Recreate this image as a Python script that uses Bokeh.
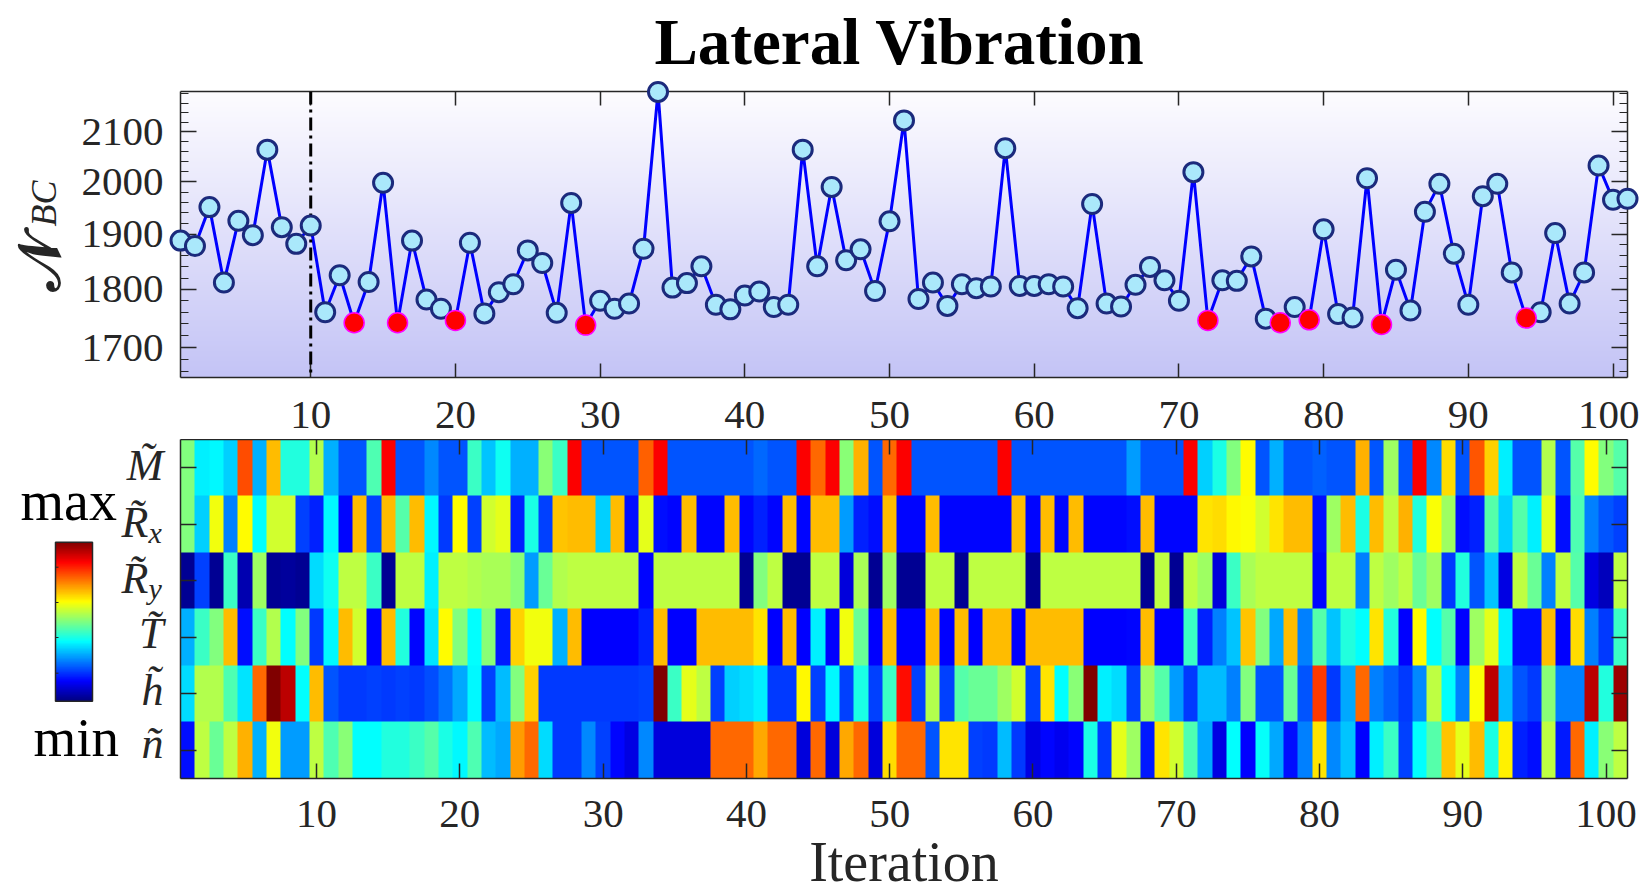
import numpy as np
from bokeh.plotting import figure
from bokeh.layouts import column, row
from bokeh.models import (Range1d, FixedTicker, LinearAxis, LogAxis, Span,
                          LinearColorMapper, BasicTickFormatter)
from bokeh.core.properties import value
from bokeh.embed import file_html
from bokeh.resources import INLINE

# ---------------- data ----------------
iterations = list(range(1, 102))
n_bc = [1888, 1878, 1951, 1812, 1925, 1898, 2064, 1913, 1882, 1916,
        1760, 1825, 1742, 1813, 1998, 1742, 1888, 1782, 1766, 1746,
        1884, 1758, 1795, 1809, 1870, 1847, 1759, 1959, 1738, 1780,
        1766, 1775, 1873, 2184, 1803, 1811, 1841, 1773, 1765, 1789,
        1796, 1769, 1773, 2064, 1841, 1990, 1852, 1872, 1797, 1924,
        2124, 1783, 1812, 1771, 1809, 1802, 1805, 2067, 1806, 1806,
        1809, 1805, 1767, 1957, 1775, 1770, 1808, 1840, 1816, 1780,
        2019, 1746, 1816, 1815, 1859, 1749, 1742, 1769, 1747, 1909,
        1757, 1751, 2007, 1739, 1835, 1763, 1942, 1996, 1864, 1773,
        1972, 1996, 1830, 1750, 1760, 1902, 1775, 1830, 2032, 1965, 1967]
best_iters = [13, 16, 20, 29, 72, 77, 79, 84, 94]

x_ticks = [10, 20, 30, 40, 50, 60, 70, 80, 90, 100]
y_ticks = [1700, 1800, 1900, 2000, 2100]
y_minor = list(range(1660, 2181, 20))
y_lims = (1651, 2185)

heat_M = [0.5, 0.36, 0.37, 0.33, 0.8, 0.3, 0.69, 0.41, 0.41, 0.55,
          0.3, 0.21, 0.21, 0.45, 0.875, 0.21, 0.21, 0.26, 0.21, 0.21,
          0.43, 0.32, 0.39, 0.3, 0.3, 0.51, 0.43, 0.875, 0.21, 0.21,
          0.21, 0.21, 0.78, 0.875, 0.21, 0.21, 0.21, 0.21, 0.21, 0.21,
          0.23, 0.21, 0.21, 0.875, 0.77, 0.875, 0.51, 0.7, 0.21, 0.77,
          0.875, 0.21, 0.21, 0.21, 0.21, 0.21, 0.21, 0.875, 0.21, 0.21,
          0.21, 0.21, 0.21, 0.21, 0.21, 0.21, 0.28, 0.21, 0.21, 0.21,
          0.875, 0.33, 0.4, 0.5, 0.625, 0.21, 0.3, 0.21, 0.21, 0.22,
          0.21, 0.21, 0.7, 0.21, 0.53, 0.21, 0.875, 0.26, 0.66, 0.21,
          0.79, 0.67, 0.36, 0.21, 0.21, 0.55, 0.21, 0.46, 0.625, 0.5, 0.46]
heat_Rx = [0.5, 0.33, 0.61, 0.25, 0.625, 0.375, 0.58, 0.58, 0.19, 0.16,
           0.37, 0.13, 0.69, 0.19, 0.69, 0.46, 0.69, 0.37, 0.18, 0.625,
           0.19, 0.58, 0.6, 0.16, 0.4, 0.19, 0.68, 0.69, 0.69, 0.33,
           0.69, 0.14, 0.6, 0.14, 0.13, 0.69, 0.13, 0.13, 0.69, 0.13,
           0.16, 0.13, 0.69, 0.13, 0.69, 0.69, 0.28, 0.16, 0.14, 0.69,
           0.13, 0.13, 0.69, 0.13, 0.13, 0.13, 0.13, 0.13, 0.69, 0.13,
           0.69, 0.13, 0.69, 0.13, 0.13, 0.13, 0.14, 0.69, 0.13, 0.13,
           0.13, 0.65, 0.66, 0.63, 0.62, 0.58, 0.65, 0.69, 0.69, 0.14,
           0.53, 0.69, 0.4, 0.69, 0.56, 0.7, 0.41, 0.62, 0.53, 0.14,
           0.16, 0.46, 0.33, 0.46, 0.36, 0.6, 0.14, 0.45, 0.25, 0.21, 0.19]
heat_Ry = [0.02, 0.19, 0.02, 0.43, 0.05, 0.53, 0.02, 0.03, 0.02, 0.34,
           0.39, 0.56, 0.56, 0.43, 0.02, 0.56, 0.56, 0.36, 0.56, 0.56,
           0.55, 0.54, 0.54, 0.51, 0.28, 0.48, 0.55, 0.56, 0.56, 0.56,
           0.56, 0.56, 0.13, 0.56, 0.56, 0.56, 0.56, 0.56, 0.56, 0.02,
           0.5, 0.56, 0.02, 0.02, 0.56, 0.56, 0.09, 0.54, 0.02, 0.53,
           0.02, 0.02, 0.56, 0.56, 0.02, 0.56, 0.56, 0.56, 0.56, 0.02,
           0.56, 0.56, 0.56, 0.56, 0.56, 0.56, 0.56, 0.02, 0.56, 0.02,
           0.56, 0.53, 0.09, 0.43, 0.54, 0.56, 0.56, 0.56, 0.56, 0.13,
           0.56, 0.56, 0.25, 0.56, 0.53, 0.56, 0.48, 0.53, 0.18, 0.41,
           0.21, 0.32, 0.1, 0.56, 0.48, 0.25, 0.56, 0.46, 0.1, 0.06, 0.56]
heat_T = [0.3, 0.43, 0.5, 0.69, 0.14, 0.43, 0.55, 0.375, 0.5, 0.18,
          0.37, 0.69, 0.58, 0.13, 0.69, 0.41, 0.13, 0.35, 0.625, 0.5,
          0.375, 0.51, 0.15, 0.67, 0.61, 0.61, 0.3, 0.69, 0.125, 0.125,
          0.125, 0.125, 0.16, 0.69, 0.125, 0.125, 0.69, 0.69, 0.69, 0.69,
          0.65, 0.125, 0.69, 0.125, 0.36, 0.125, 0.61, 0.48, 0.125, 0.69,
          0.125, 0.125, 0.69, 0.125, 0.69, 0.125, 0.69, 0.69, 0.125, 0.69,
          0.69, 0.69, 0.69, 0.125, 0.125, 0.125, 0.13, 0.69, 0.125, 0.125,
          0.43, 0.16, 0.25, 0.32, 0.68, 0.5, 0.29, 0.69, 0.25, 0.46,
          0.32, 0.41, 0.375, 0.65, 0.41, 0.125, 0.625, 0.375, 0.46, 0.125,
          0.53, 0.6, 0.36, 0.14, 0.14, 0.69, 0.125, 0.66, 0.25, 0.18, 0.43]
heat_h = [0.34, 0.55, 0.55, 0.45, 0.35, 0.77, 1.0, 0.94, 0.375, 0.69,
          0.21, 0.18, 0.18, 0.19, 0.18, 0.19, 0.18, 0.2, 0.24, 0.29,
          0.37, 0.19, 0.31, 0.5, 0.67, 0.18, 0.18, 0.18, 0.18, 0.18,
          0.18, 0.18, 0.19, 1.0, 0.43, 0.6, 0.56, 0.19, 0.33, 0.34,
          0.36, 0.18, 0.18, 0.63, 0.19, 0.37, 0.19, 0.4, 0.19, 0.43,
          0.86, 0.19, 0.55, 0.19, 0.46, 0.48, 0.48, 0.53, 0.58, 0.19,
          0.65, 0.375, 0.51, 1.0, 0.36, 0.34, 0.19, 0.53, 0.46, 0.28,
          0.18, 0.31, 0.31, 0.25, 0.5, 0.21, 0.21, 0.48, 0.21, 0.82,
          0.18, 0.29, 0.77, 0.25, 0.22, 0.18, 0.26, 0.56, 0.375, 0.25,
          0.62, 0.94, 0.31, 0.21, 0.18, 0.51, 0.25, 0.25, 0.94, 0.41, 0.97]
heat_n = [0.14, 0.56, 0.48, 0.56, 0.7, 0.3, 0.61, 0.28, 0.28, 0.56,
          0.45, 0.51, 0.375, 0.375, 0.41, 0.41, 0.43, 0.46, 0.4, 0.37,
          0.45, 0.31, 0.29, 0.72, 0.77, 0.34, 0.18, 0.18, 0.26, 0.19,
          0.13, 0.1, 0.26, 0.09, 0.09, 0.09, 0.09, 0.77, 0.77, 0.77,
          0.71, 0.77, 0.77, 0.09, 0.77, 0.09, 0.71, 0.77, 0.09, 0.66,
          0.77, 0.77, 0.21, 0.65, 0.65, 0.19, 0.18, 0.31, 0.18, 0.1,
          0.13, 0.11, 0.13, 0.4, 0.18, 0.6, 0.53, 0.15, 0.65, 0.58,
          0.45, 0.29, 0.1, 0.375, 0.125, 0.38, 0.29, 0.14, 0.25, 0.65,
          0.26, 0.32, 0.125, 0.36, 0.43, 0.19, 0.375, 0.46, 0.68, 0.6,
          0.69, 0.4, 0.64, 0.16, 0.14, 0.56, 0.15, 0.77, 0.36, 0.51, 0.56]

row_main = ["M\u0303", "R\u0303", "R\u0303", "T\u0303", "h\u0303", "n\u0303"]
row_sub = ["", "x", "y", "", "", ""]
title_text = "Lateral Vibration"
xlabel_text = "Iteration"

# ---------------- styling helpers ----------------
SERIF = "Liberation Serif"
AX = "#262626"
W = 1639
TOP_H, BOT_H = 439, 455
LT_W, CB_W = 75, 172
P1_TOP, P1_BOT = 91, 62          # borders of the line plot
P2_BOT = 116                     # bottom border of the heat map
BL = 0.34                        # text anchor to alphabetic baseline, in em


def anchor(page_baseline, size):
    """page y of the anchor that puts the alphabetic baseline at page_baseline"""
    return page_baseline - BL * size


def jet(n=256):
    v = np.linspace(0, 1, n)
    r = np.clip(1.5 - np.abs(4 * v - 3), 0, 1)
    g = np.clip(1.5 - np.abs(4 * v - 2), 0, 1)
    b = np.clip(1.5 - np.abs(4 * v - 1), 0, 1)
    return ["#%02x%02x%02x" % (int(round(a * 255)), int(round(c * 255)), int(round(d * 255)))
            for a, c, d in zip(r, g, b)]


JET = jet()


def style_axis(ax, tick_in, label_size="41px", standoff=16, show_labels=True, minor_in=0):
    ax.axis_line_color = AX
    ax.axis_line_width = 1.5
    ax.major_tick_line_color = AX
    ax.major_tick_line_width = 1.5
    ax.minor_tick_line_color = AX
    ax.minor_tick_line_width = 1.2
    ax.major_tick_in = tick_in
    ax.major_tick_out = 0
    ax.minor_tick_in = minor_in
    ax.minor_tick_out = 0
    ax.major_label_text_font = SERIF
    ax.major_label_text_color = AX
    if show_labels:
        ax.major_label_text_font_size = label_size
        ax.major_label_standoff = standoff
    else:
        ax.major_label_text_font_size = "0px"
        ax.major_label_standoff = 0


# ---------------- top: line plot ----------------
p1 = figure(width=W - LT_W, height=TOP_H, x_range=Range1d(1, 101),
            y_range=Range1d(*y_lims), y_axis_type="log",
            output_backend="svg", toolbar_location=None,
            min_border_left=105, min_border_right=12, min_border_top=P1_TOP,
            min_border_bottom=P1_BOT)
p1.grid.visible = False
p1.outline_line_color = None

# vertical gradient background of the axes
N = 256
grad = np.empty((N, 1), dtype=np.uint32)
gv = grad.view(dtype=np.uint8).reshape((N, 1, 4))
t = np.linspace(0, 1, N)  # 0 bottom, 1 top
gv[:, 0, 0] = (196 + (253 - 196) * t).astype(np.uint8)
gv[:, 0, 1] = (196 + (252 - 196) * t).astype(np.uint8)
gv[:, 0, 2] = (246 + (255 - 246) * t).astype(np.uint8)
gv[:, 0, 3] = 255
p1.image_rgba(image=[grad], x=1, y=y_lims[0], dw=100, dh=y_lims[1] - y_lims[0], level="image")

p1.add_layout(Span(location=10, dimension="height", line_color="black",
                   line_width=3, line_dash="13 5 3 5"))

p1.line(iterations, n_bc, line_color="#0000ff", line_width=3)
xn = [i for i in iterations if i not in best_iters]
yn = [n_bc[i - 1] for i in xn]
xb = list(best_iters)
yb = [n_bc[i - 1] for i in xb]
r1 = p1.scatter(xn, yn, size=19, fill_color="#aae8fb", line_color="#1b2a7c", line_width=3)
r2 = p1.scatter(xb, yb, size=20, fill_color="#ff0000", line_color="#ff00ff", line_width=1.5)
r1.level = "overlay"
r2.level = "overlay"

# title drawn above the frame (page baseline ~63 px)
frame1_h = TOP_H - P1_TOP - P1_BOT
px_per_decade = frame1_h / (np.log10(y_lims[1]) - np.log10(y_lims[0]))
title_size = 65
title_y = y_lims[1] * 10 ** ((P1_TOP - anchor(64, title_size)) / px_per_decade)
tt = p1.text(x=[50.7], y=[title_y], text=[title_text], text_font=value(SERIF),
             text_font_size="%dpx" % title_size, text_font_style="bold",
             text_baseline="alphabetic", text_align="center", text_color="black")
tt.level = "overlay"

p1.xaxis.ticker = FixedTicker(ticks=x_ticks)
style_axis(p1.xaxis[0], 14, standoff=24)
p1.yaxis.ticker = FixedTicker(ticks=y_ticks, minor_ticks=y_minor)
p1.yaxis.formatter = BasicTickFormatter(use_scientific=False)
style_axis(p1.yaxis[0], 16, standoff=17, minor_in=8)

ax_top = LinearAxis(ticker=FixedTicker(ticks=x_ticks))
style_axis(ax_top, 14, show_labels=False)
p1.add_layout(ax_top, "above")
ax_right = LogAxis(ticker=FixedTicker(ticks=y_ticks, minor_ticks=y_minor))
ax_right.formatter = BasicTickFormatter(use_scientific=False)
style_axis(ax_right, 16, show_labels=False, minor_in=8)
p1.add_layout(ax_right, "right")

# left strip with the y label (frame lines up with p1's frame; data y = 439 - page y)
lt = figure(width=LT_W, height=TOP_H, x_range=Range1d(0, LT_W),
            y_range=Range1d(P1_BOT, TOP_H - P1_TOP),
            output_backend="svg", toolbar_location=None, min_border=0,
            x_axis_location=None, y_axis_location=None, outline_line_color=None)
lt.grid.visible = False
n_size, bc_size = 58, 36
t1 = lt.text(x=[58 - BL * n_size], y=[TOP_H - 290], text=["\U0001D4A9"], angle=np.pi / 2,
             text_font=value("DejaVu Serif"), text_font_size="%dpx" % n_size,
             text_font_style="bold",
             text_baseline="alphabetic", text_align="left", text_color=AX)
t2 = lt.text(x=[56 - BL * bc_size], y=[TOP_H - 226], text=["BC"], angle=np.pi / 2,
             text_font=value(SERIF), text_font_style="italic", text_font_size="%dpx" % bc_size,
             text_baseline="alphabetic", text_align="left", text_color=AX)
t1.level = "overlay"
t2.level = "overlay"

# ---------------- bottom: heat map ----------------
p2 = figure(width=W - CB_W, height=BOT_H, x_range=Range1d(0.5, 101.5),
            y_range=Range1d(0.5, 6.5), output_backend="svg", toolbar_location=None,
            min_border_left=8, min_border_right=12, min_border_top=0,
            min_border_bottom=P2_BOT)
p2.grid.visible = False
p2.outline_line_color = None
mapper = LinearColorMapper(palette=JET, low=0, high=1)
matrix = np.array([heat_n, heat_h, heat_T, heat_Ry, heat_Rx, heat_M])
p2.image(image=[matrix], x=0.5, y=0.5, dw=101, dh=6, color_mapper=mapper)

p2.xaxis.ticker = FixedTicker(ticks=x_ticks)
style_axis(p2.xaxis[0], 15, standoff=22)
p2.yaxis.ticker = FixedTicker(ticks=[1, 2, 3, 4, 5, 6])
style_axis(p2.yaxis[0], 16, show_labels=False)
ax_top2 = LinearAxis(ticker=FixedTicker(ticks=x_ticks))
style_axis(ax_top2, 15, show_labels=False)
p2.add_layout(ax_top2, "above")
ax_right2 = LinearAxis(ticker=FixedTicker(ticks=[1, 2, 3, 4, 5, 6]))
style_axis(ax_right2, 16, show_labels=False)
p2.add_layout(ax_right2, "right")

# x-axis title below the frame
frame_h = BOT_H - P2_BOT
unit_px = frame_h / 6.0
xl_size = 56
it_y = 6.5 - (anchor(881, xl_size) - TOP_H) / unit_px
tl = p2.text(x=[51], y=[it_y], text=[xlabel_text], text_font=value(SERIF),
             text_font_size="%dpx" % xl_size, text_baseline="alphabetic", text_align="center",
             text_color=AX)
tl.level = "overlay"

# left strip: colour bar, max/min and row labels (frame lines up with p2's frame)
cb = figure(width=CB_W, height=BOT_H, x_range=Range1d(0, CB_W),
            y_range=Range1d(894 - (TOP_H + frame_h), 894 - TOP_H),
            output_backend="svg", toolbar_location=None, min_border=0,
            x_axis_location=None, y_axis_location=None, outline_line_color=None)
cb.grid.visible = False


def py(page_y):
    return 894 - page_y


bar = np.linspace(0, 1, 256).reshape(256, 1)
cb.image(image=[bar], x=55, y=py(700.7), dw=37, dh=159, color_mapper=mapper)
cb.quad(left=[55], right=[92], bottom=[py(700.7)], top=[py(541.7)],
        fill_color=None, line_color=AX, line_width=1.5)
cb.segment(x0=[55] * 4, x1=[58] * 4, y0=[py(v) for v in (566.7, 602, 637, 672.7)],
           y1=[py(v) for v in (566.7, 602, 637, 672.7)], line_color=AX, line_width=1)
ts = []
ts.append(cb.text(x=[20], y=[py(anchor(520, 56))], text=["max"], text_font=value(SERIF),
                  text_font_size="56px", text_baseline="alphabetic", text_align="left",
                  text_color="black"))
ts.append(cb.text(x=[33], y=[py(anchor(756, 55))], text=["min"], text_font=value(SERIF),
                  text_font_size="55px", text_baseline="alphabetic", text_align="left",
                  text_color="black"))

lab_size, sub_size = 44, 30
label_right = [163, 148, 148, 163, 163, 163]
label_base = [480, 537, 593, 648, 705, 758]
ts.append(cb.text(x=label_right, y=[py(anchor(v, lab_size)) for v in label_base], text=row_main,
                  text_font=value(SERIF), text_font_style="italic",
                  text_font_size="%dpx" % lab_size,
                  text_baseline="alphabetic", text_align="right", text_color=AX))
sub_x = [148 for s in row_sub if s]
sub_y = [py(anchor(b + 5, sub_size)) for b, s in zip(label_base, row_sub) if s]
ts.append(cb.text(x=sub_x, y=sub_y, text=[s for s in row_sub if s],
                  text_font=value(SERIF), text_font_style="italic",
                  text_font_size="%dpx" % sub_size,
                  text_baseline="alphabetic", text_align="left", text_color=AX))
for r in ts:
    r.level = "overlay"

layout = column(row(lt, p1), row(cb, p2))
open("out.html", "w").write(file_html(layout, INLINE))
